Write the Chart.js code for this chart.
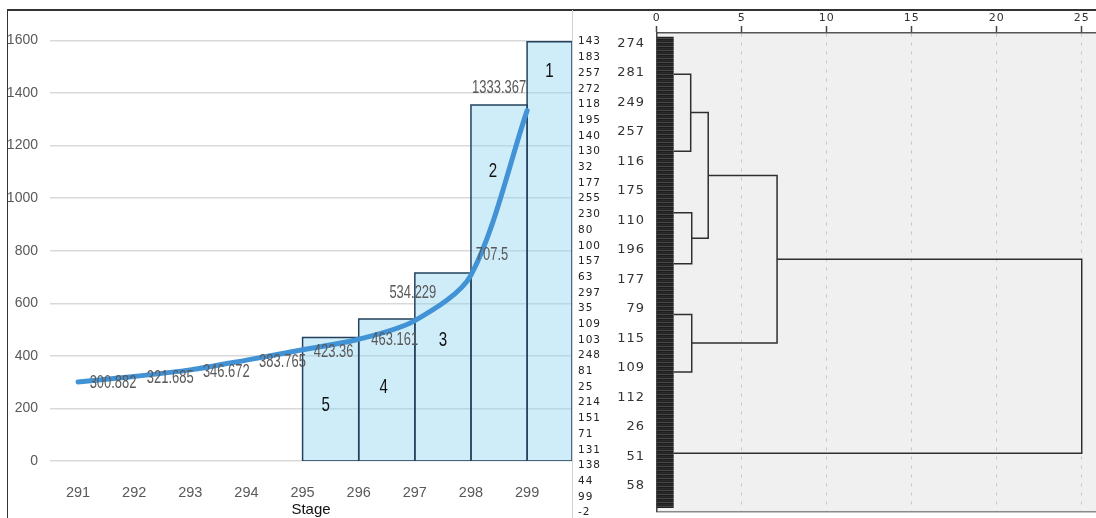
<!DOCTYPE html>
<html>
<head>
<meta charset="utf-8">
<script src="https://cdn.jsdelivr.net/npm/chart.js@4.4.0/dist/chart.umd.min.js"></script>
<style>
  html, body { margin: 0; padding: 0; width: 1096px; height: 518px; overflow: hidden; background: #fff; }
  canvas { position: absolute; top: 0; }
  #stageChart { left: 0; }
  #treeChart { left: 572px; }
  .rule { position: absolute; }
  .rule.top { left: 6.5px; top: 9px; width: 1090px; height: 1.5px; background: #333; }
  .rule.left { left: 6.5px; top: 9px; width: 1.5px; height: 510px; background: #333; }
  .rule.mid { left: 572px; top: 10px; width: 1px; height: 508px; background: #d2d2d2; }
</style>
</head>
<body>
<canvas id="stageChart" width="573" height="521"></canvas>
<canvas id="treeChart" width="524" height="518"></canvas>
<div class="rule top"></div>
<div class="rule left"></div>
<div class="rule mid"></div>
<script>
// left panel: score per stage and the five classes
const stages = [291, 292, 293, 294, 295, 296, 297, 298, 299];
const scoreValues = [300.882, 321.685, 346.672, 383.765, 423.36, 463.161, 534.229, 707.5, 1333.367];
const scoreTicks = [0, 200, 400, 600, 800, 1000, 1200, 1400, 1600];
const classNames = ["5", "4", "3", "2", "1"];
const classFrom = [295, 296, 297, 298, 299];
const classTo = [296, 297, 298, 299, 299.8];
const classTop = [470, 540, 715, 1355, 1595];

// right panel: sample list and dendrogram
const sampleIds = ["143", "183", "257", "272", "118", "195", "140", "130", "32", "177", "255", "230", "80", "100", "157",
    "63", "297", "35", "109", "103", "248", "81", "25", "214", "151", "71", "131", "138", "44", "99", "-2"];
const leafLabels = ["274", "281", "249", "257", "116", "175", "110", "196", "177", "79", "115", "109", "112", "26", "51", "58"];
const distTicks = [0, 5, 10, 15, 20, 25];
// each merge: upper row, lower row, joining distance, distances the two branches come from
const mergeUpper = [1.05, 5.74, 9.19, 2.35, 4.48, 7.32];
const mergeLower = [3.66, 7.47, 11.14, 6.61, 10.16, 13.9];
const mergeDist = [2.0, 2.06, 2.06, 3.03, 7.08, 25];
const upperFrom = [1, 1, 1, 2.0, 3.03, 7.08];
const lowerFrom = [1, 1, 1, 2.06, 2.06, 1];
const leafStrip = [-0.22, 15.75];
const stripGaps = [2.19, 5.24, 6.4, 8.36, 9.78, 12.6];

const sans = "'Liberation Sans', Arial, sans-serif";
const plain = "'DejaVu Sans', sans-serif";

// squeezed text, the original uses a narrow face
function narrowText(ctx, text, x, y, squeeze) {
    ctx.save();
    ctx.translate(x, y);
    ctx.scale(squeeze, 1);
    ctx.fillText(text, 0, 0);
    ctx.restore();
}

const valueLabels = {
    id: "valueLabels",
    afterDatasetsDraw(chart, args, opts) {
        const meta = chart.getDatasetMeta(0);
        const ctx = chart.ctx;
        ctx.save();
        ctx.font = "18px " + sans;
        ctx.fillStyle = "#595959";
        ctx.textAlign = "center";
        ctx.textBaseline = "middle";
        meta.data.forEach((pt, i) => {
            const [dx, dy] = opts.shift[i];
            narrowText(ctx, String(scoreValues[i]), pt.x + dx, pt.y + dy, 0.72);
        });
        ctx.restore();
    }
};

const classLabels = {
    id: "classLabels",
    afterDatasetsDraw(chart, args, opts) {
        const { x, y } = chart.scales;
        const ctx = chart.ctx;
        ctx.save();
        ctx.font = "21px " + sans;
        ctx.fillStyle = "#111";
        ctx.textAlign = "center";
        ctx.textBaseline = "middle";
        classNames.forEach((name, i) => {
            const px = x.getPixelForValue((classFrom[i] + classTo[i]) / 2) + opts.dx[i];
            narrowText(ctx, name, px, y.getPixelForValue(opts.level[i]), 0.72);
        });
        ctx.restore();
    }
};

const noPad = s => { s.paddingTop = 0; s.paddingBottom = 0; s.paddingLeft = 0; s.paddingRight = 0; };

const classSets = classNames.map((name, i) => ({
    data: [
        { x: classFrom[i], y: 0 }, { x: classFrom[i], y: classTop[i] },
        { x: classTo[i], y: classTop[i] }, { x: classTo[i], y: 0 }
    ],
    borderColor: "#23405c",
    borderWidth: 1.5,
    backgroundColor: "rgba(140, 210, 240, 0.42)",
    fill: "origin",
    pointRadius: 0,
    tension: 0,
    order: 2
}));

new Chart(document.getElementById("stageChart"), {
    type: "line",
    data: {
        datasets: [
            {
                data: stages.map((s, i) => ({ x: s, y: scoreValues[i] })),
                borderColor: "#4292d6",
                borderWidth: 5,
                pointRadius: 0,
                tension: 0.3,
                borderCapStyle: "round",
                order: 0
            },
            ...classSets,
            {
                data: [{ x: classFrom[0], y: 0 }, { x: classTo[classTo.length - 1], y: 0 }],
                borderColor: "#23405c",
                borderWidth: 1.5,
                pointRadius: 0,
                order: 1
            }
        ]
    },
    options: {
        responsive: false,
        animation: false,
        layout: { padding: { left: 0, right: 1, top: 40.5, bottom: 0 } },
        plugins: {
            legend: { display: false },
            tooltip: { enabled: false },
            valueLabels: { shift: [[35, 1], [36, 2], [36, 2], [36, 2], [31, 2], [36, 1], [-2, -28], [21, -20], [-28, -23]] },
            classLabels: { level: [213, 282, 461, 1101, 1482], dx: [-5, -3, 0, -6, 0] }
        },
        scales: {
            x: {
                type: "linear",
                min: 290.5,
                max: 299.8,
                afterBuildTicks: s => { s.ticks = stages.map(v => ({ value: v })); },
                afterFit: s => { s.height = 60; noPad(s); },
                grid: { display: false, drawTicks: false },
                border: { display: false },
                ticks: { padding: 23, color: "#595959", font: { family: sans, size: 14.5 }, callback: v => String(v) },
                title: { display: true, text: "Stage", color: "#111", font: { family: sans, size: 15 }, padding: { top: 0, bottom: 2 } }
            },
            y: {
                min: 0,
                max: 1600,
                afterBuildTicks: s => { s.ticks = scoreTicks.map(v => ({ value: v })); },
                afterFit: s => { s.width = 50; noPad(s); },
                grid: { color: "#d9d9d9", lineWidth: 1.5, drawTicks: false },
                border: { display: false },
                ticks: { padding: 12, color: "#595959", font: { family: sans, size: 14 }, callback: v => String(v) }
            }
        }
    },
    plugins: [valueLabels, classLabels]
});

// dendrogram
const stripCanvas = document.createElement("canvas");
stripCanvas.width = 1;
stripCanvas.height = 4;
const sctx = stripCanvas.getContext("2d");
["#2a2a2a", "#232323", "#474747", "#1e1e1e"].forEach((c, i) => { sctx.fillStyle = c; sctx.fillRect(0, i, 1, 1); });

const spaced = {
    id: "spaced",
    beforeLayout(chart) { chart.ctx.letterSpacing = "1px"; },
    beforeDraw(chart) {
        const { ctx, chartArea: a } = chart;
        ctx.letterSpacing = "1px";
        ctx.save();
        ctx.fillStyle = "#f0f0f0";
        ctx.fillRect(a.left, a.top, a.right - a.left, a.bottom - a.top);
        ctx.restore();
    }
};

const treeLine = { showLine: true, pointRadius: 0, borderColor: "#2e2e2e", borderWidth: 1.5, xAxisID: "x", yAxisID: "yDend" };

const treeSets = mergeDist.map((d, i) => ({
    ...treeLine,
    data: [
        { x: upperFrom[i], y: mergeUpper[i] }, { x: d, y: mergeUpper[i] },
        { x: d, y: mergeLower[i] }, { x: lowerFrom[i], y: mergeLower[i] }
    ]
}));

const gapPoints = [];
stripGaps.forEach(r => { gapPoints.push({ x: 0, y: r }, { x: 1, y: r }, { x: 0.5, y: null }); });

new Chart(document.getElementById("treeChart"), {
    type: "scatter",
    data: {
        datasets: [
            {
                ...treeLine,
                data: [{ x: 0.5, y: leafStrip[0] }, { x: 0.5, y: leafStrip[1] }],
                borderColor: sctx.createPattern(stripCanvas, "repeat"),
                borderWidth: 17,
                borderCapStyle: "butt"
            },
            { ...treeLine, data: gapPoints, borderColor: "#8f8f8f", borderWidth: 1.2, spanGaps: false },
            ...treeSets
        ]
    },
    options: {
        responsive: false,
        animation: false,
        layout: { padding: { left: 6, right: 0, top: 0, bottom: 0 } },
        plugins: { legend: { display: false }, tooltip: { enabled: false } },
        scales: {
            x: {
                position: "top",
                min: 0,
                max: 25.84,
                afterBuildTicks: s => { s.ticks = distTicks.map(v => ({ value: v })); },
                afterFit: s => { s.height = 33; noPad(s); },
                grid: {
                    color: c => (c.tick && c.tick.value === 0 ? "rgba(0,0,0,0)" : "#c6c6c6"),
                    tickColor: "#444",
                    tickLength: 7,
                    tickWidth: 1.5
                },
                border: { display: true, color: "#555", width: 1.5, dash: [3, 6] },
                ticks: { padding: 1.4, color: "#333", font: { family: plain, size: 11 }, callback: v => String(v) }
            },
            x2: {
                position: "bottom",
                min: 0,
                max: 25.84,
                afterFit: s => { s.height = 6.3; noPad(s); },
                grid: { display: false },
                ticks: { display: false },
                border: { display: true, color: "#8a8a8a", width: 1.5 }
            },
            yDend: {
                position: "left",
                weight: 0,
                reverse: true,
                min: -0.349,
                max: 15.878,
                afterBuildTicks: s => { s.ticks = leafLabels.map((_, i) => ({ value: i })); },
                afterFit: s => { s.width = 38.7; noPad(s); },
                grid: { display: false },
                border: { display: true, color: "#444", width: 1.5 },
                ticks: { padding: 3.7, crossAlign: "near", autoSkip: false, color: "#333", font: { family: plain, size: 13 }, callback: v => leafLabels[v] }
            },
            yList: {
                position: "left",
                weight: 1,
                reverse: true,
                min: -0.554,
                max: 29.94,
                afterBuildTicks: s => { s.ticks = sampleIds.map((_, i) => ({ value: i })); },
                afterFit: s => { s.width = 40; noPad(s); },
                grid: { display: false },
                border: { display: false },
                ticks: { padding: 0, crossAlign: "far", autoSkip: false, color: "#222", font: { family: plain, size: 10.5 }, callback: v => sampleIds[v] }
            }
        }
    },
    plugins: [spaced]
});
</script>
</body>
</html>
